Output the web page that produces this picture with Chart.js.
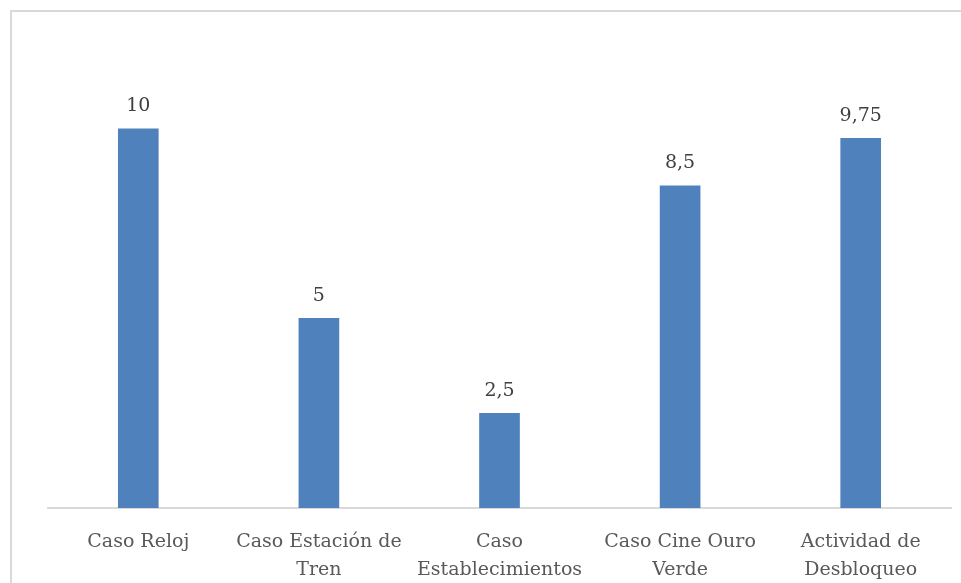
<!DOCTYPE html>
<html>
<head>
<meta charset="utf-8">
<script src="https://cdn.jsdelivr.net/npm/chart.js@4/dist/chart.umd.min.js"></script>
<style>
  html, body { margin: 0; padding: 0; background: #fff; overflow: hidden; }
</style>
</head>
<body>
<canvas id="chart" width="961" height="583"></canvas>
<script>
// categories and values
const categories = [
  ['Caso Reloj'],
  ['Caso Estación de', 'Tren'],
  ['Caso', 'Establecimientos'],
  ['Caso Cine Ouro', 'Verde'],
  ['Actividad de', 'Desbloqueo']
];
const scores = [10, 5, 2.5, 8.5, 9.75];

const serif = "'DejaVu Serif', 'Liberation Serif', serif";

// outer chart frame: only its top and left edges fall inside the canvas
const frame = {
  id: 'frame',
  beforeDraw(chart) {
    const ctx = chart.ctx;
    ctx.save();
    ctx.strokeStyle = '#d9d9d9';
    ctx.lineWidth = 2;
    ctx.beginPath();
    ctx.moveTo(11, chart.height);
    ctx.lineTo(11, 11);
    ctx.lineTo(chart.width, 11);
    ctx.stroke();
    ctx.restore();
  }
};

// writes each bar's value above it, with a decimal comma
const valueLabels = {
  id: 'valueLabels',
  afterDatasetsDraw(chart) {
    const ctx = chart.ctx;
    const meta = chart.getDatasetMeta(0);
    ctx.save();
    ctx.fillStyle = '#404040';
    ctx.font = '19px ' + serif;
    ctx.textAlign = 'center';
    ctx.textBaseline = 'bottom';
    meta.data.forEach(function (bar, i) {
      const txt = String(scores[i]).replace('.', ',');
      ctx.fillText(txt, bar.x, bar.y - 13);
    });
    ctx.restore();
  }
};

new Chart(document.getElementById('chart'), {
  type: 'bar',
  data: {
    labels: categories,
    datasets: [
      {
        data: scores,
        backgroundColor: '#4f81bd',
        barThickness: 40,
      },
    ],
  },
  options: {
    responsive: false,
    animation: false,
    layout: { padding: { left: 48, right: 10, top: 53, bottom: 0 } },
    plugins: { legend: { display: false }, tooltip: { enabled: false } },
    scales: {
      x: {
        grid: { display: false },
        border: { display: true, color: '#d9d9d9', width: 2 },
        ticks: {
          color: '#595959',
          font: { family: serif, size: 19, lineHeight: 1.47 },
          padding: 12,
          maxRotation: 0,
          autoSkip: false,
        },
        afterFit(scale) { scale.height = 75; },
      },
      y: {
        display: false,
        min: 0,
        max: 12,
      },
    },
  },
  plugins: [frame, valueLabels],
});
</script>
</body>
</html>
